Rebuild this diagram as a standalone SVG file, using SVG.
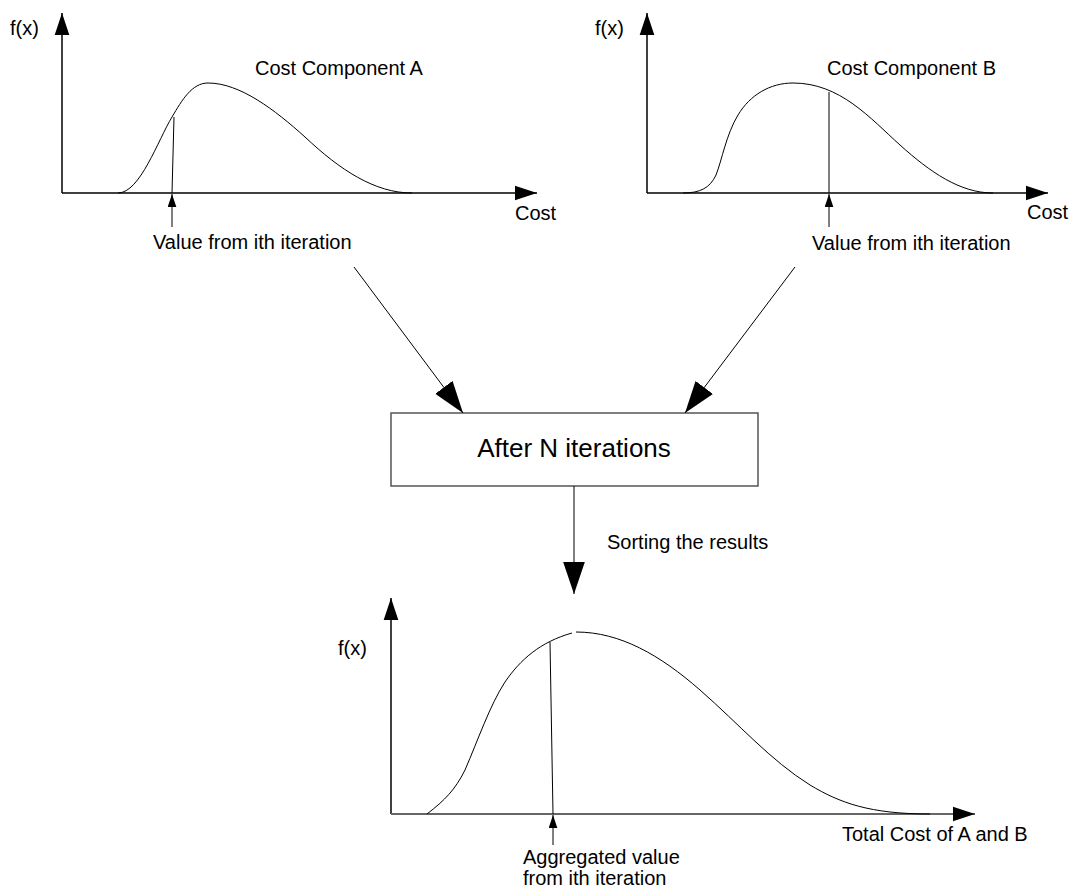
<svg xmlns="http://www.w3.org/2000/svg" width="1071" height="891" viewBox="0 0 1071 891">
<style>
text{font-family:"Liberation Sans",Arial,sans-serif;font-size:20px;fill:#000}
.big{font-size:26px}
.axis{stroke:#000;stroke-width:1.5;fill:none}
.axisg{stroke:#666;stroke-width:2;fill:none}
.curve{stroke:#000;stroke-width:1;fill:none}
.conn{stroke:#000;stroke-width:1;fill:none}
.box{fill:#fff;stroke:#555;stroke-width:1.5}
</style>
<defs>
<marker id="ax" markerUnits="userSpaceOnUse" markerWidth="22" markerHeight="16" viewBox="0 0 21 14" refX="21" refY="7" orient="auto"><path d="M0,0L21,7L0,14Z" fill="#000"/></marker>
<marker id="bg" markerUnits="userSpaceOnUse" markerWidth="32" markerHeight="22" viewBox="0 0 31 21" refX="31" refY="10.5" orient="auto"><path d="M0,0L31,10.5L0,21Z" fill="#000"/></marker>
<marker id="sm" markerUnits="userSpaceOnUse" markerWidth="13" markerHeight="9" viewBox="0 0 12 8" refX="12" refY="4" orient="auto"><path d="M0,0L12,4L0,8Z" fill="#000"/></marker>
</defs>

<g id="chartA">
<path class="axis" d="M62,193V13" marker-end="url(#ax)"/>
<path class="axis" d="M62,193H537" marker-end="url(#ax)"/>
<path class="curve" d="M118,193C140,193 158,140 172,117C182,100 192,83 208,83C240,83 275,110 305,137C340,170 375,193 412,193"/>
<path class="curve" d="M174,117L172,193"/>
<path class="conn" d="M172,227V194" marker-end="url(#sm)"/>
<text x="10" y="35">f(x)</text>
<text x="255" y="75">Cost Component A</text>
<text x="515" y="220">Cost</text>
<text x="153" y="249">Value from ith iteration</text>
</g>

<g id="chartB">
<path class="axis" d="M647,193V13" marker-end="url(#ax)"/>
<path class="axis" d="M647,193H1048" marker-end="url(#ax)"/>
<path class="curve" d="M683,193C700,193 710,188 716,175C722,160 726,135 738,115C750,95 770,83 793,83C840,83 870,118 900,145C930,172 960,193 993,193"/>
<path class="curve" d="M829,92V193"/>
<path class="conn" d="M829,227V194" marker-end="url(#sm)"/>
<text x="595" y="35">f(x)</text>
<text x="827" y="75">Cost Component B</text>
<text x="1027" y="219">Cost</text>
<text x="812" y="250">Value from ith iteration</text>
</g>

<g id="box">
<rect class="box" x="391" y="413" width="367" height="73"/>
<text class="big" x="574" y="457" text-anchor="middle">After N iterations</text>
</g>

<g id="chartTotal">
<path class="axis" d="M391,814V598" marker-end="url(#ax)"/>
<path class="axisg" d="M391,814H975" marker-end="url(#ax)"/>
<path class="curve" d="M427,814C445,800 455,790 465,770C478,740 490,705 505,682C520,660 540,642 572,633"/>
<path class="curve" d="M576,632C620,632 660,655 700,690C740,725 770,760 810,785C840,803 870,814 930,814"/>
<path class="curve" d="M550,642L553,814"/>
<path class="conn" d="M553,845V815" marker-end="url(#sm)"/>
<text x="338" y="655">f(x)</text>
<text x="842" y="841">Total Cost of A and B</text>
<text x="523" y="864">Aggregated value</text>
<text x="523" y="885">from ith iteration</text>
</g>

<g id="connectors">
<path class="conn" d="M354,267L463,413" marker-end="url(#bg)"/>
<path class="conn" d="M795,267L685,413" marker-end="url(#bg)"/>
<path class="conn" stroke="#333" d="M574,486V594" marker-end="url(#bg)"/>
<text x="607" y="549">Sorting the results</text>
</g>
</svg>
